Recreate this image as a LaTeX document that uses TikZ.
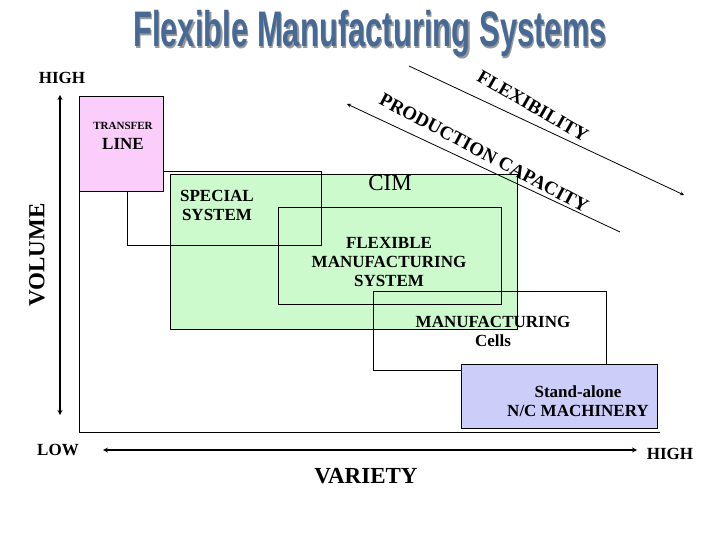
\documentclass[tikz,border=0pt]{standalone}
\usepackage{fontspec}
\setmainfont{Liberation Serif}
\newfontfamily\titlefont{Liberation Sans}
\definecolor{titleblue}{RGB}{70,105,150}
\definecolor{pinkfill}{RGB}{250,205,250}
\definecolor{greenfill}{RGB}{205,250,205}
\definecolor{bluefill}{RGB}{205,205,250}
\tikzset{
  lbl/.style={font=\bfseries\fontsize{17}{19}\selectfont, align=center},
  box/.style={draw=black, line width=0.8pt},
  axis/.style={line width=1.2pt, <->, >=stealth}
}
\begin{document}
\begin{tikzpicture}[x=1pt,y=-1pt]
\useasboundingbox (0,0) rectangle (720,540);
% title
\node (title) [text=titleblue] at (370,35) {\titlefont\bfseries\fontsize{50}{50}\selectfont\scalebox{0.62}[1]{\rlap{\kern2pt\raisebox{-2pt}{\color{black!40}Flexible Manufacturing Systems}}Flexible Manufacturing Systems}};

% boxes
\filldraw[greenfill, box] (170,174) rectangle (517,329);
\draw[box] (127,171) rectangle (321,245);
\filldraw[pinkfill, box] (79,96) rectangle (163,191);
\draw[box] (278,207) rectangle (501,304);
\draw[box] (373,291) rectangle (606,370);
\filldraw[bluefill, box] (461,364) rectangle (657,428);

% frame and axes
\draw[line width=0.8pt] (79,96) -- (79,432) -- (660,432);
\coordinate (vtop) at (60,95);
\coordinate (vbot) at (60,415);
\coordinate (hleft) at (103,450);
\coordinate (hright) at (637,450);
\draw[axis] (vbot) -- (vtop);
\draw[axis] (hleft) -- (hright);

% trend arrows
\coordinate (fa) at (409,66);
\coordinate (fb) at (684,195);
\coordinate (pa) at (620,232);
\coordinate (pb) at (347,104);
\draw[line width=0.8pt, ->, >=stealth] (fa) -- (fb);
\draw[line width=0.8pt, ->, >=stealth] (pa) -- (pb);
\node[lbl, rotate=-30, font=\bfseries\fontsize{19}{19}\selectfont] (flex) at (533,106) {FLEXIBILITY};
\node[lbl, rotate=-28, font=\bfseries\fontsize{19}{19}\selectfont] (prod) at (484,153) {PRODUCTION CAPACITY};

% labels
\node[lbl] (high) at (62,78) {HIGH};
\node[lbl] (low) at (58,450) {LOW};
\node[lbl] (hhigh) at (670,454) {HIGH};
\node[lbl, font=\bfseries\fontsize{23}{23}\selectfont] (variety) at (366,476) {VARIETY};
\node[lbl, rotate=90, font=\bfseries\fontsize{23}{23}\selectfont] (volume) at (37,255) {VOLUME};
\node[lbl, font=\bfseries\fontsize{11}{11}\selectfont] (transfer) at (123,126) {TRANSFER};
\node[lbl] (line) at (123,144) {LINE};
\node[lbl] (special) at (217,205) {SPECIAL\\SYSTEM};
\node[font=\fontsize{23}{23}\selectfont] (cim) at (390,183) {CIM};
\node[lbl] (fms) at (389,262) {FLEXIBLE\\MANUFACTURING\\SYSTEM};
\node[lbl] (cells) at (493,331) {MANUFACTURING\\Cells};
\node[lbl] (nc) at (578,401) {Stand-alone\\N/C MACHINERY};
\end{tikzpicture}
\end{document}
